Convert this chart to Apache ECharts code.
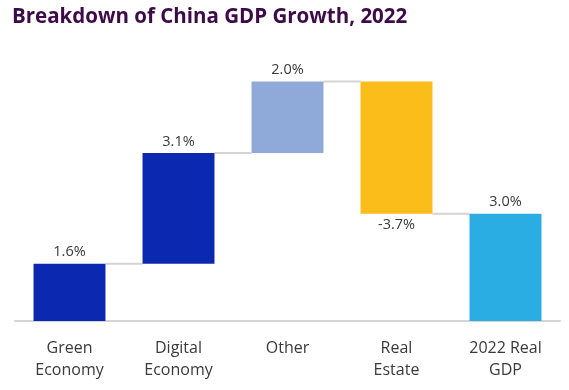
<!DOCTYPE html>
<html><head><meta charset="utf-8">
<script src="https://cdn.jsdelivr.net/npm/echarts@6/dist/echarts.min.js"></script>
<style>html,body{margin:0;padding:0;background:#fff}#c{width:569px;height:390px}</style>
</head><body><div id="c"></div>
<script>
const categories = ['Green\nEconomy', 'Digital\nEconomy', 'Other', 'Real\nEstate', '2022 Real\nGDP'];
const changes = [1.6, 3.1, 2.0, -3.7, 3.0];
const isTotal = [false, false, false, false, true];
const labels = ['1.6%', '3.1%', '2.0%', '-3.7%', '3.0%'];
const colors = ['#0b28b1', '#0b28b1', '#8fa9d8', '#fbbd19', '#29ade3'];

// derive start/end of each bar
const starts = [], ends = [];
let run = 0;
changes.forEach((v, i) => {
  if (isTotal[i]) { starts.push(0); ends.push(v); run = v; }
  else { starts.push(run); ends.push(run + v); run += v; }
});
const baseVals = starts.map((s, i) => Math.min(s, ends[i]));
const barVals = changes.map(v => Math.abs(v));
const BW = 0.66;

const chart = echarts.init(document.getElementById('c'));
chart.setOption({
  animation: false,
  title: {
    text: 'Breakdown of China GDP Growth, 2022',
    left: 7, top: 2,
    textStyle: { fontFamily: 'Open Sans', fontWeight: 'bold', fontSize: 20.5, color: '#3d0b48' }
  },
  grid: { left: 15, right: 9, top: 35, bottom: 69 },
  xAxis: {
    type: 'category', data: categories,
    axisLine: { lineStyle: { color: '#d4d4d4', width: 2 } },
    axisTick: { show: false },
    axisLabel: { fontFamily: 'Open Sans', fontSize: 16, color: '#3a3a3a', lineHeight: 22, margin: 16 }
  },
  yAxis: { type: 'value', min: 0, max: 8, show: false, splitLine: { show: false } },
  series: [
    {
      type: 'custom', z: 1,
      renderItem: (params, api) => {
        const i = params.dataIndex;
        if (i >= categories.length - 1) return null;
        const y = ends[i];
        const p1 = api.coord([i, y]);
        const p2 = api.coord([i + 1, y]);
        const half = api.size([1, 0])[0] * BW / 2;
        return {
          type: 'line',
          shape: { x1: p1[0] + half, y1: p1[1], x2: p2[0] - half, y2: p2[1] },
          style: { stroke: '#d4d4d4', lineWidth: 2 }
        };
      },
      data: categories.map((c, i) => i)
    },
    {
      type: 'bar', stack: 'w', barWidth: (BW * 100) + '%', silent: true,
      itemStyle: { color: 'transparent' },
      data: baseVals
    },
    {
      type: 'bar', stack: 'w', z: 3,
      data: barVals.map((v, i) => ({
        value: v,
        itemStyle: { color: colors[i] },
        label: {
          show: true,
          position: changes[i] < 0 ? 'bottom' : 'top',
          distance: 4,
          formatter: labels[i],
          fontFamily: 'Open Sans', fontSize: 14.5, color: '#3a3a3a'
        }
      }))
    }
  ]
});
</script>
</body></html>
